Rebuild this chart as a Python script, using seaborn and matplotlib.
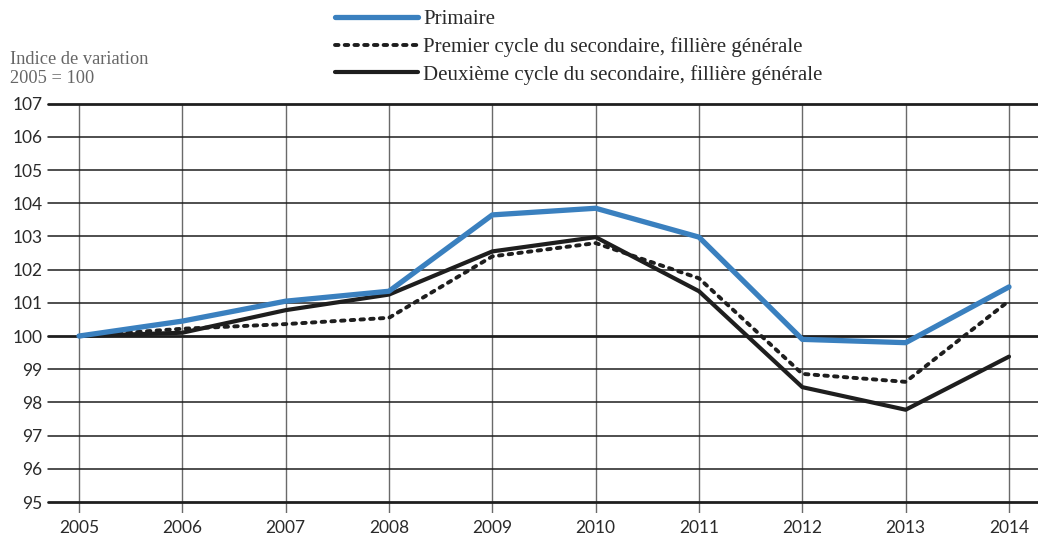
import pandas as pd
import matplotlib
matplotlib.use('Agg')
import matplotlib.pyplot as plt
import seaborn as sns

# Indice de variation, 2005 = 100
years = [2005, 2006, 2007, 2008, 2009, 2010, 2011, 2012, 2013, 2014]
primaire = [100.0, 100.45, 101.05, 101.35, 103.65, 103.85, 102.98, 99.9, 99.8, 101.48]
premier_cycle = [100.0, 100.22, 100.36, 100.55, 102.4, 102.8, 101.74, 98.86, 98.62, 101.06]
deuxieme_cycle = [100.0, 100.1, 100.78, 101.25, 102.55, 102.98, 101.35, 98.46, 97.78, 99.38]

labels = ['Primaire',
          'Premier cycle du secondaire, fillière générale',
          'Deuxième cycle du secondaire, fillière générale']
y_ticks = list(range(95, 108))

df = pd.DataFrame({'annee': years, labels[0]: primaire,
                   labels[1]: premier_cycle, labels[2]: deuxieme_cycle})

sns.set_style('white')
plt.rcParams['font.family'] = ['Lato', 'DejaVu Sans']

fig = plt.figure(figsize=(10.38, 5.37), dpi=100)
ax = fig.add_axes([48 / 1038, 1 - 513 / 537, 1 - 48 / 1038, (513 - 103.7) / 537])

# grid
for y in y_ticks:
    lw = 2.0 if y in (95, 100, 107) else 1.1
    ax.axhline(y, color='#1e1e1e', lw=lw, zorder=1, clip_on=False)
for x in years:
    ax.axvline(x, color='#6a6a6a', lw=1.0, zorder=0)

sns.lineplot(data=df, x='annee', y=labels[0], ax=ax, color='#3a80bf', lw=3.8,
             label=labels[0], zorder=4)
sns.lineplot(data=df, x='annee', y=labels[2], ax=ax, color='#1e1e1e', lw=3.0,
             label=labels[2], zorder=3)
sns.lineplot(data=df, x='annee', y=labels[1], ax=ax, color='#1e1e1e', lw=2.8,
             linestyle=(0, (0.9, 1.6)), dash_capstyle='round',
             label=labels[1], zorder=3)

ax.set_xlim(2005 - 31 / 103.33, 2014 + 29 / 103.33)
ax.set_ylim(95 - 11 / 33.2, 107)
ax.set_xticks(years)
ax.set_yticks(y_ticks)
ax.tick_params(axis='both', length=0, labelsize=12.5, labelcolor='#2a2a2a')
ax.tick_params(axis='y', pad=4)
ax.tick_params(axis='x', pad=5)
ax.set_xlabel('')
ax.set_ylabel('')
for s in ax.spines.values():
    s.set_visible(False)

handles, lbls = ax.get_legend_handles_labels()
order = [0, 2, 1]
leg = ax.legend([handles[i] for i in order], [lbls[i] for i in order],
                loc='upper left', bbox_to_anchor=(335 / 1038, 1 - 9.5 / 537),
                bbox_transform=fig.transFigure, frameon=False,
                handlelength=4.0, handletextpad=0.24, labelspacing=0.38,
                borderaxespad=0, borderpad=0,
                prop={'family': 'Liberation Serif', 'size': 15})
for t in leg.get_texts():
    t.set_color('#2a2a2a')

fig.text(10 / 1038, 1 - 69 / 537, 'Indice de variation\n2005 = 100',
         family='Liberation Serif', fontsize=13.2, color='#666666',
         va='center', ha='left', linespacing=1.22)

fig.savefig('out.png', dpi=100)
